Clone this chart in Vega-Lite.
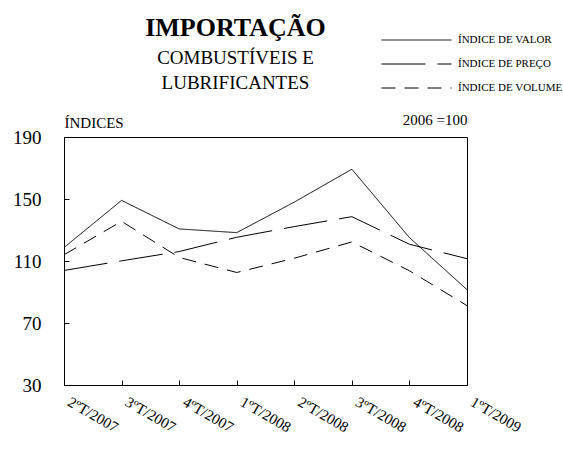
{
  "$schema": "https://vega.github.io/schema/vega-lite/v6.json",
  "width": 403,
  "height": 248,
  "autosize": "none",
  "padding": {"left": 64, "top": 137, "right": 96, "bottom": 65},
  "background": "white",
  "config": {
    "font": "Liberation Serif",
    "view": {"stroke": "black", "strokeWidth": 1},
    "axis": {"grid": false, "domainColor": "black", "tickColor": "black", "labelColor": "black", "titleColor": "black", "labelFont": "Liberation Serif", "titleFont": "Liberation Serif", "titleFontWeight": "normal"}
  },
  "title": {
    "text": "IMPORTAÇÃO",
    "subtitle": ["COMBUSTÍVEIS E", "LUBRIFICANTES"],
    "anchor": "middle",
    "frame": "group",
    "dx": -30,
    "offset": -59,
    "font": "Liberation Serif",
    "fontSize": 26,
    "fontWeight": "bold",
    "color": "black",
    "subtitleFont": "Liberation Serif",
    "subtitleFontSize": 19,
    "subtitleColor": "black",
    "subtitleLineHeight": 25,
    "subtitlePadding": 8
  },
  "data": {
    "values": [
      {"periodo": "2ºT/2007", "serie": "ÍNDICE DE VALOR", "indice": 118.7},
      {"periodo": "3ºT/2007", "serie": "ÍNDICE DE VALOR", "indice": 149.1},
      {"periodo": "4ºT/2007", "serie": "ÍNDICE DE VALOR", "indice": 130.7},
      {"periodo": "1ºT/2008", "serie": "ÍNDICE DE VALOR", "indice": 128.3},
      {"periodo": "2ºT/2008", "serie": "ÍNDICE DE VALOR", "indice": 148.0},
      {"periodo": "3ºT/2008", "serie": "ÍNDICE DE VALOR", "indice": 169.2},
      {"periodo": "4ºT/2008", "serie": "ÍNDICE DE VALOR", "indice": 125.1},
      {"periodo": "1ºT/2009", "serie": "ÍNDICE DE VALOR", "indice": 91.5},
      {"periodo": "2ºT/2007", "serie": "ÍNDICE DE PREÇO", "indice": 103.9},
      {"periodo": "3ºT/2007", "serie": "ÍNDICE DE PREÇO", "indice": 110.1},
      {"periodo": "4ºT/2007", "serie": "ÍNDICE DE PREÇO", "indice": 116.1},
      {"periodo": "1ºT/2008", "serie": "ÍNDICE DE PREÇO", "indice": 125.3},
      {"periodo": "2ºT/2008", "serie": "ÍNDICE DE PREÇO", "indice": 132.2},
      {"periodo": "3ºT/2008", "serie": "ÍNDICE DE PREÇO", "indice": 138.6},
      {"periodo": "4ºT/2008", "serie": "ÍNDICE DE PREÇO", "indice": 120.8},
      {"periodo": "1ºT/2009", "serie": "ÍNDICE DE PREÇO", "indice": 111.5},
      {"periodo": "2ºT/2007", "serie": "ÍNDICE DE VOLUME", "indice": 114.0},
      {"periodo": "3ºT/2007", "serie": "ÍNDICE DE VOLUME", "indice": 135.6},
      {"periodo": "4ºT/2007", "serie": "ÍNDICE DE VOLUME", "indice": 112.3},
      {"periodo": "1ºT/2008", "serie": "ÍNDICE DE VOLUME", "indice": 102.6},
      {"periodo": "2ºT/2008", "serie": "ÍNDICE DE VOLUME", "indice": 111.8},
      {"periodo": "3ºT/2008", "serie": "ÍNDICE DE VOLUME", "indice": 122.3},
      {"periodo": "4ºT/2008", "serie": "ÍNDICE DE VOLUME", "indice": 103.7},
      {"periodo": "1ºT/2009", "serie": "ÍNDICE DE VOLUME", "indice": 81.2}
    ]
  },
  "mark": {"type": "line", "color": "black", "strokeWidth": 1},
  "encoding": {
    "x": {
      "field": "periodo",
      "type": "ordinal",
      "sort": null,
      "scale": {"type": "point", "padding": 0},
      "axis": {
        "title": "2006 =100",
        "titleFontSize": 15,
        "titleX": 403,
        "titleY": -261,
        "titleAlign": "right",
        "titleBaseline": "alphabetic",
        "titleAnchor": null,
        "labelAngle": 30,
        "labelAlign": "left",
        "labelBaseline": "top",
        "labelFontSize": 15,
        "labelPadding": 14,
        "labelOffset": 8,
        "tickSize": -5,
        "domain": true
      }
    },
    "y": {
      "field": "indice",
      "type": "quantitative",
      "scale": {"domain": [30, 190], "nice": false, "zero": false},
      "axis": {
        "values": [30, 70, 110, 150, 190],
        "title": "ÍNDICES",
        "titleFontSize": 15,
        "titleAngle": 0,
        "titleX": 0,
        "titleY": -10,
        "titleAlign": "left",
        "titleBaseline": "alphabetic",
        "labelFontSize": 19,
        "labelPadding": 28,
        "tickSize": -5
      }
    },
    "strokeDash": {
      "field": "serie",
      "type": "nominal",
      "scale": {
        "domain": ["ÍNDICE DE VALOR", "ÍNDICE DE PREÇO", "ÍNDICE DE VOLUME"],
        "range": [[1, 0], [44, 12], [14, 9]]
      },
      "legend": {
        "title": null,
        "orient": "none",
        "legendX": 317,
        "legendY": -103,
        "padding": 0,
        "symbolType": "stroke",
        "symbolSize": 4900,
        "symbolStrokeColor": "black",
        "symbolStrokeWidth": 1,
        "clipHeight": 12,
        "rowPadding": 12,
        "labelFont": "Liberation Serif",
        "labelFontSize": 11,
        "labelColor": "black",
        "labelOffset": 6,
        "labelLimit": 0
      }
    }
  }
}
